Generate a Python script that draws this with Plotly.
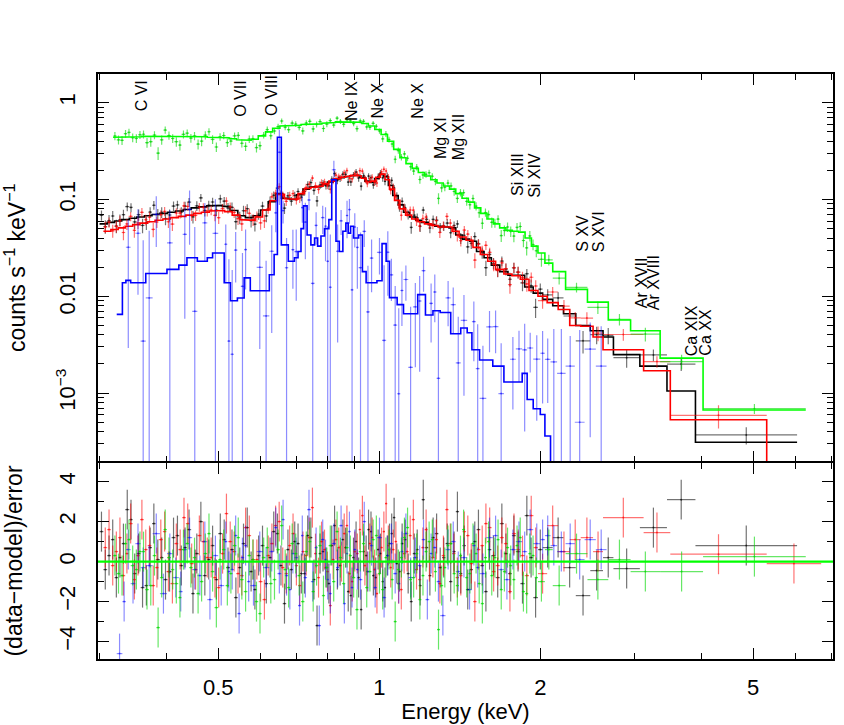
import numpy as np
import plotly.graph_objects as go

# ---------------- data ----------------
# model bins (step lines) and model values
black_edges = [0.300, 0.310, 0.320, 0.330, 0.341, 0.352, 0.364, 0.376, 0.389, 0.402,
               0.416, 0.430, 0.445, 0.460, 0.476, 0.492, 0.509, 0.526, 0.544, 0.562,
               0.581, 0.600, 0.620, 0.640, 0.660, 0.680, 0.700, 0.720, 0.740, 0.760,
               0.780, 0.800, 0.820, 0.840, 0.860, 0.880, 0.900, 0.920, 0.940, 0.960,
               0.980, 1.000, 1.020, 1.040, 1.060, 1.085, 1.110, 1.140, 1.170, 1.200,
               1.235, 1.270, 1.310, 1.350, 1.390, 1.430, 1.475, 1.520, 1.570, 1.620,
               1.680, 1.740, 1.800, 1.870, 1.940, 2.020, 2.110, 2.210, 2.330, 2.480,
               2.620, 2.740, 3.070, 3.450, 3.900, 6.040]
black_model = [0.056, 0.058, 0.060, 0.062, 0.064, 0.066, 0.068, 0.070, 0.072, 0.074,
               0.076, 0.079, 0.082, 0.084, 0.086, 0.087, 0.085, 0.077, 0.068, 0.065,
               0.068, 0.078, 0.095, 0.115, 0.103, 0.100, 0.112, 0.128, 0.135, 0.136,
               0.142, 0.152, 0.162, 0.168, 0.172, 0.176, 0.178, 0.170, 0.155, 0.150,
               0.165, 0.182, 0.172, 0.140, 0.110, 0.088, 0.074, 0.066, 0.061, 0.058,
               0.055, 0.053, 0.052, 0.051, 0.043, 0.039, 0.037, 0.029, 0.025, 0.021,
               0.018, 0.0165, 0.0165, 0.0125, 0.0108, 0.0093, 0.0080, 0.0066, 0.0050, 0.0044,
               0.0038, 0.0025, 0.0019, 0.00105, 0.00031]
black_relerr = [0.15, 0.15, 0.14, 0.14, 0.14, 0.14, 0.13, 0.13, 0.13, 0.13,
                0.12, 0.12, 0.12, 0.12, 0.12, 0.12, 0.12, 0.13, 0.14, 0.14,
                0.13, 0.12, 0.11, 0.10, 0.10, 0.10, 0.09, 0.09, 0.09, 0.09,
                0.08, 0.08, 0.08, 0.08, 0.08, 0.08, 0.08, 0.08, 0.08, 0.08,
                0.08, 0.08, 0.08, 0.09, 0.09, 0.10, 0.10, 0.11, 0.11, 0.11,
                0.11, 0.11, 0.11, 0.11, 0.12, 0.12, 0.12, 0.13, 0.14, 0.14,
                0.15, 0.15, 0.15, 0.16, 0.16, 0.16, 0.17, 0.17, 0.18, 0.19,
                0.20, 0.20, 0.18, 0.29, 0.24]
# extra data-bin boundaries inside the model bins (data are binned finer)
black_mids = [0.305, 0.315, 0.325, 0.335, 0.346, 0.358, 0.370, 0.382, 0.395, 0.409,
              0.423, 0.437, 0.452, 0.468, 0.484, 0.500, 0.517, 0.535, 0.553, 0.571,
              0.590, 0.610, 0.630, 0.650, 0.670, 0.690, 0.710, 0.730, 0.750, 0.770,
              0.790, 0.810, 0.830, 0.850, 0.870, 0.890, 0.910, 0.930, 0.950, 0.970,
              0.990, 1.010, 1.030, 1.050, 1.072, 1.097, 1.125, 1.155, 1.185, 1.217,
              1.252, 1.290, 1.330, 1.370, 1.410, 1.452, 1.497, 1.545, 1.595, 1.650,
              1.710, 1.770, 1.835, 1.905, 1.980]
black_resid = [1.5, -0.4, 0.3, 1.1, -0.8, 0.2, 0.9, 2.6, 2.1, -0.6,
               0.4, -1.3, -1.2, 0.7, 1.9, 0.1, 0.2, -0.9, -0.5, 1.2,
               1.3, -0.2, 0.7, 1.6, -1.6, 0.4, 2.0, -0.7, 0.1, 0.8,
               -0.9, 1.4, 1.1, -0.3, 0.6, -1.8, -0.3, 0.9, 1.7, -0.5,
               -1.4, 0.3, 0.8, -1.1, 0.2, 1.5, 1.4, -0.2, -2.1, 0.6,
               -0.4, 1.0, 0.9, -0.6, -0.6, 1.3, 1.2, -0.9, -3.2, 0.4,
               0.5, -0.3, -1.1, 0.8, 1.8, -0.4, -0.2, 1.1, 0.7, -1.5,
               -1.7, 0.2, 1.0, -0.8, -2.4, 0.5, 0.3, 1.6, 1.5, -0.7,
               -0.8, 0.6, 0.4, -1.0, -1.3, 0.3, 0.9, 1.4, 2.2, -0.1,
               -0.5, 0.9, 1.1, -0.6, -2.0, 0.4, 0.6, -1.2, 3.1, 0.7,
               -0.7, 1.2, 1.4, -0.3, 0.2, 0.9, -1.0, 0.5, 2.5, -0.6,
               0.8, -1.4, -0.4, 1.0, 1.6, -0.2, -1.5, 0.6, 0.3, -0.8,
               1.9, 0.4, -0.6, 1.3, 0.5, -1.1, 2.3, 0.2, -1.8, 0.6,
               0.7, 1.2, -0.3, -1.7, -0.45, 0.2, -0.35, 1.7, 3.1, 0.8]

red_edges = [0.305, 0.315, 0.325, 0.335, 0.346, 0.357, 0.369, 0.381, 0.394, 0.407,
             0.421, 0.435, 0.450, 0.465, 0.481, 0.497, 0.514, 0.531, 0.549, 0.567,
             0.586, 0.605, 0.625, 0.645, 0.665, 0.685, 0.705, 0.725, 0.745, 0.765,
             0.785, 0.805, 0.825, 0.845, 0.865, 0.885, 0.905, 0.925, 0.945, 0.965,
             0.985, 1.005, 1.025, 1.045, 1.068, 1.093, 1.120, 1.150, 1.182, 1.215,
             1.250, 1.288, 1.328, 1.368, 1.410, 1.453, 1.497, 1.545, 1.595, 1.650,
             1.710, 1.770, 1.835, 1.905, 1.980, 2.060, 2.160, 2.270, 2.380, 2.510,
             2.620, 3.120, 3.500, 5.300, 6.700]
red_model = [0.047, 0.049, 0.051, 0.053, 0.055, 0.057, 0.059, 0.061, 0.063, 0.065,
             0.067, 0.069, 0.072, 0.074, 0.076, 0.077, 0.075, 0.069, 0.062, 0.061,
             0.066, 0.078, 0.097, 0.113, 0.102, 0.101, 0.115, 0.130, 0.134, 0.137,
             0.145, 0.155, 0.164, 0.170, 0.174, 0.178, 0.176, 0.166, 0.152, 0.155,
             0.170, 0.183, 0.160, 0.128, 0.098, 0.080, 0.069, 0.063, 0.059, 0.056,
             0.054, 0.052, 0.052, 0.047, 0.041, 0.038, 0.032, 0.027, 0.023, 0.019,
             0.017, 0.0163, 0.0150, 0.0115, 0.0100, 0.0086, 0.0073, 0.0050, 0.0049, 0.0038,
             0.0028, 0.0017, 0.00053, 0.0001]
red_relerr = [0.15, 0.15, 0.15, 0.14, 0.14, 0.14, 0.14, 0.13, 0.13, 0.13,
              0.13, 0.12, 0.12, 0.12, 0.12, 0.12, 0.12, 0.13, 0.14, 0.14,
              0.13, 0.12, 0.11, 0.10, 0.10, 0.10, 0.09, 0.09, 0.09, 0.09,
              0.08, 0.08, 0.08, 0.08, 0.08, 0.08, 0.08, 0.08, 0.08, 0.08,
              0.08, 0.08, 0.08, 0.09, 0.09, 0.10, 0.10, 0.11, 0.11, 0.11,
              0.11, 0.11, 0.11, 0.12, 0.12, 0.12, 0.13, 0.13, 0.14, 0.14,
              0.15, 0.15, 0.15, 0.16, 0.16, 0.16, 0.17, 0.18, 0.18, 0.19,
              0.20, 0.17, 0.30, 15.0]
red_mids = [0.310, 0.320, 0.330, 0.340, 0.351, 0.363, 0.375, 0.387, 0.400, 0.414,
            0.428, 0.442, 0.457, 0.473, 0.489, 0.505, 0.522, 0.540, 0.558, 0.576,
            0.595, 0.615, 0.635, 0.655, 0.675, 0.695, 0.715, 0.735, 0.755, 0.775,
            0.795, 0.815, 0.835, 0.855, 0.875, 0.895, 0.915, 0.935, 0.955, 0.975,
            0.995, 1.015, 1.035, 1.056, 1.080, 1.106, 1.135, 1.166, 1.198, 1.232,
            1.269, 1.308, 1.348, 1.389, 1.431, 1.475, 1.521, 1.570, 1.622, 1.680,
            1.740, 1.802, 1.870, 1.942]
red_resid = [0.7, 1.6, -0.2, 0.5, 1.2, -0.7, 0.4, 1.9, -0.9, 0.3,
             2.1, 0.6, 0.8, -1.2, -0.3, 1.1, 1.5, -0.5, -1.1, 0.9,
             0.6, 2.2, 1.9, -0.1, -0.4, 1.3, 1.0, 0.2, 0.2, -0.8,
             -1.3, 0.4, 2.4, 1.0, 0.5, -0.6, -0.7, 1.7, 1.3, 0.1,
             0.1, -1.0, -1.9, 0.3, 0.9, 1.8, 2.0, -0.3, -0.6, 0.8,
             1.4, -0.2, -1.2, 0.5, 0.3, 1.2, 2.7, 0.4, -0.8, 1.0,
             0.6, -0.5, -2.2, 0.1, 1.1, 0.7, 0.0, 1.4, 1.8, -0.6,
             -1.0, 0.5, 0.4, 1.6, 2.3, -0.2, -0.5, 0.9, 1.2, -0.4,
             -1.6, 0.3, 0.7, 1.5, 2.9, 0.8, -0.3, 0.6, 1.0, -1.1,
             -1.4, 0.4, 0.5, 1.3, 2.1, -0.4, -0.9, 0.7, 1.6, 0.0,
             0.2, 1.1, -1.1, 0.3, 2.6, 0.9, 0.4, -0.8, -0.7, 1.5,
             1.3, -0.1, -2.0, 0.6, 0.8, 1.9, 1.7, -0.5, -0.2, 1.2,
             0.9, -1.5, 1.4, 0.6, 0.3, -0.7, 2.3, 0.7,
             -0.6, 1.8, 0.5, 1.1, 1.2, 0.5, 2.2, 1.45, 0.37, -0.1]

green_edges = [0.318, 0.328, 0.338, 0.349, 0.360, 0.371, 0.383, 0.395, 0.408, 0.421,
               0.434, 0.448, 0.462, 0.477, 0.492, 0.508, 0.524, 0.541, 0.558, 0.576,
               0.594, 0.613, 0.632, 0.652, 0.672, 0.693, 0.714, 0.736, 0.758, 0.781,
               0.804, 0.828, 0.852, 0.877, 0.902, 0.928, 0.954, 0.981, 1.008, 1.036,
               1.064, 1.093, 1.122, 1.152, 1.183, 1.215, 1.248, 1.282, 1.317, 1.353,
               1.390, 1.428, 1.467, 1.507, 1.548, 1.590, 1.634, 1.679, 1.725, 1.773,
               1.822, 1.873, 1.925, 1.980, 2.040, 2.110, 2.230, 2.450, 2.680, 2.950,
               3.350, 4.030, 6.270]
green_model = [0.44, 0.44, 0.445, 0.445, 0.45, 0.45, 0.45, 0.45, 0.445, 0.445,
               0.445, 0.445, 0.445, 0.44, 0.44, 0.435, 0.425, 0.415, 0.41, 0.42,
               0.455, 0.50, 0.545, 0.575, 0.58, 0.585, 0.595, 0.60, 0.605, 0.615,
               0.625, 0.635, 0.64, 0.64, 0.63, 0.61, 0.575, 0.53, 0.47, 0.40,
               0.33, 0.27, 0.235, 0.21, 0.19, 0.175, 0.16, 0.148, 0.138, 0.128,
               0.115, 0.103, 0.094, 0.082, 0.072, 0.063, 0.056, 0.051, 0.048, 0.047,
               0.046, 0.040, 0.033, 0.028, 0.022, 0.018, 0.0118, 0.0087, 0.0057, 0.0044,
               0.0023, 0.00067]
green_relerr = [0.10, 0.10, 0.10, 0.10, 0.10, 0.10, 0.10, 0.10, 0.10, 0.10,
                0.10, 0.10, 0.10, 0.10, 0.09, 0.09, 0.09, 0.09, 0.09, 0.09,
                0.08, 0.08, 0.07, 0.07, 0.07, 0.07, 0.07, 0.07, 0.07, 0.07,
                0.06, 0.06, 0.06, 0.06, 0.06, 0.06, 0.06, 0.06, 0.07, 0.07,
                0.07, 0.08, 0.08, 0.08, 0.08, 0.08, 0.08, 0.09, 0.09, 0.09,
                0.09, 0.09, 0.10, 0.10, 0.10, 0.11, 0.11, 0.12, 0.12, 0.12,
                0.12, 0.13, 0.13, 0.14, 0.14, 0.12, 0.12, 0.13, 0.14, 0.15,
                0.16, 0.12]
green_mids = [0.323, 0.333, 0.343, 0.354, 0.365, 0.377, 0.389, 0.401, 0.414, 0.427,
              0.441, 0.455, 0.469, 0.484, 0.500, 0.516, 0.532, 0.549, 0.567, 0.585,
              0.603, 0.622, 0.642, 0.662, 0.682, 0.703, 0.725, 0.747, 0.769, 0.792,
              0.816, 0.840, 0.864, 0.889, 0.915, 0.941, 0.967, 0.994, 1.022, 1.050,
              1.078, 1.107, 1.137, 1.167, 1.199, 1.231, 1.265, 1.299, 1.335, 1.371,
              1.409, 1.447, 1.487, 1.527, 1.569, 1.612, 1.656, 1.702, 1.749, 1.797,
              1.847, 1.899, 1.952]
green_resid = [0.3, -0.6, -0.7, 0.9, 1.1, -0.2, -0.4, 0.5, 0.5, -1.4,
               -1.2, 0.3, -3.3, -0.8, 1.6, 0.2, -0.4, -1.1, -1.8, 0.6,
               0.9, -0.3, 0.2, -1.6, -1.0, 0.4, 1.4, -0.5, -2.3, 0.1,
               0.6, -1.2, -0.6, 0.8, 1.2, -0.9, -1.5, 0.3, 0.1, -2.0,
               -2.6, 0.2, 0.7, -1.1, -0.9, 0.6, 1.8, -0.4, -1.3, 0.9,
               0.4, -0.7, -2.0, 0.5, 1.0, -1.5, -0.2, 0.8, -1.7, -0.3,
               0.8, -1.0, 1.5, 0.2, -1.1, 0.7, 0.3, -0.8, -2.4, 0.5,
               0.9, -1.3, -0.5, 1.1, 1.3, -0.6, -1.4, 0.2, 0.6, -0.9,
               -3.0, -0.4, 0.2, 1.2, 1.7, -0.9, -0.8, 0.4, -1.9, -0.7,
               0.5, 1.0, 1.1, -0.5, -3.4, -1.2, -0.3, 0.8, 0.9, -0.6,
               -1.2, 0.3, 1.6, -0.8, -0.6, 0.9, 0.4, -1.1, -2.1, 0.2,
               1.0, -0.7, 0.2, 1.1, -1.4, -0.5, 0.7, -0.2, -0.9, 0.8,
               1.2, -1.5, -1.6, 0.4, 0.3, -0.8,
               -1.0, 0.6, -1.2, 0.4, -0.9, 0.1, -0.5, -0.5, 0.25]

blue_edges = [0.323, 0.331, 0.336, 0.343, 0.366, 0.401, 0.422, 0.437, 0.457, 0.477,
              0.488, 0.513, 0.527, 0.543, 0.559, 0.574, 0.623, 0.636, 0.645, 0.656,
              0.676, 0.694, 0.705, 0.714, 0.722, 0.733, 0.745, 0.757, 0.767, 0.778,
              0.790, 0.805, 0.815, 0.830, 0.842, 0.855, 0.866, 0.875, 0.884, 0.895,
              0.915, 0.930, 0.945, 0.990, 1.012, 1.030, 1.045, 1.080, 1.110, 1.180,
              1.220, 1.260, 1.300, 1.360, 1.420, 1.460, 1.490, 1.540, 1.630, 1.710,
              1.850, 1.890, 1.940, 2.000, 2.040, 2.090, 2.150, 2.230, 2.320, 2.420,
              2.540, 2.660]
blue_model = [0.0065, 0.0138, 0.0146, 0.0138, 0.0172, 0.019, 0.021, 0.025, 0.023, 0.025,
              0.028, 0.0138, 0.0090, 0.0096, 0.0155, 0.0114, 0.0167, 0.027, 0.44, 0.034,
              0.023, 0.025, 0.029, 0.050, 0.086, 0.043, 0.034, 0.040, 0.033, 0.042,
              0.050, 0.062, 0.160, 0.037, 0.029, 0.047, 0.057, 0.045, 0.053, 0.040,
              0.043, 0.018, 0.0138, 0.0145, 0.035, 0.023, 0.0097, 0.0082, 0.0066, 0.0104,
              0.0064, 0.0071, 0.0068, 0.0041, 0.0047, 0.0042, 0.0028, 0.0022, 0.0019, 0.0013,
              0.0016, 0.00086, 0.00069, 0.00060, 0.00036, 0.0001, 0.0001, 0.0001, 0.0001, 0.0001,
              0.0001]
blue_relerr = [0.22, 0.5, 2.0, 2.5, 2.2, 2.2, 1.8, 1.8, 1.5, 1.5,
               2.0, 1.5, 1.8, 1.6, 1.2, 1.5, 1.5, 1.0, 0.5, 0.6,
               0.8, 0.8, 0.7, 0.5, 0.4, 0.5, 0.6, 0.5, 0.5, 0.5,
               0.6, 0.5, 0.3, 0.7, 0.6, 0.5, 0.5, 0.5, 0.6, 0.5,
               0.6, 0.8, 1.0, 0.8, 0.5, 0.8, 0.8, 0.8, 0.9, 0.7,
               0.8, 0.8, 0.7, 1.0, 1.0, 0.8, 1.2, 1.0, 1.2, 1.2,
               1.5, 1.5, 2.5, 3.0, 4.0, 25, 30, 20, 40, 25,
               30]
blue_mids = [0.350, 0.358, 0.377, 0.389, 0.411, 0.429, 0.447, 0.467, 0.500, 0.520,
             0.535, 0.551, 0.566, 0.590, 0.606, 0.666, 0.685, 0.797, 0.905, 0.960,
             0.975, 1.062, 1.095, 1.133, 1.156, 1.200, 1.240, 1.280, 1.330, 1.390,
             1.515, 1.585, 1.670, 1.755, 1.800]
blue_resid = [-4.6, -2.0, 0.6, -1.1, 0.9, -0.3, -0.2, 1.4, -1.6, 0.4,
              -0.8, -1.5, 0.6, 1.2, -0.4, -0.7, 1.0, -1.9, 0.3, -1.2,
              1.0, -0.5, -0.4, 1.3, -2.6, 0.2, 0.8, -1.0, -1.2, 0.5,
              -0.3, 0.5, 1.7, -0.6, 2.1, -0.7, -1.4, 0.4, 0.2, -2.2,
              1.3, -0.8, 2.6, -1.0, 0.7, -3.2, 1.1, 0.1, -0.9, -1.6,
              0.9, -0.3, 1.8, -2.1, 0.4, 1.5, -1.3, 0.6, -0.4, -0.9,
              2.0, -0.5, 0.8, -1.3, 1.2, -1.8, 0.3, 0.9, -0.6, -1.1,
              0.5, 1.4, -0.8, 0.2, -0.2, 1.1, -1.9, 0.4, 0.7, -1.0,
              -2.7, 0.6, 1.0, -0.5, 0.2, -1.4, 0.8, -0.3, -0.6, 1.2,
              1.3, -0.4, -0.9, 0.6, 1.0, 0.5, 1.6, 0.9, 1.1, 1.3,
              0.8, 0.5, 0.9, 0.1, 1.1, 0.6]

line_names = ["C VI", "O VII", "O VIII", "Ne IX", "Ne X", "Ne X", "Mg XI", "Mg XII",
              "Si XIII", "Si XIV", "S XV", "S XVI", "Ar XVII", "Ar XVIII", "Ca XIX", "Ca XX"]
line_energy = [0.368, 0.566, 0.647, 0.910, 1.017, 1.209, 1.340, 1.448,
               1.859, 2.000, 2.459, 2.646, 3.171, 3.353, 3.933, 4.177]
line_label_y = [1.166, 1.10, 1.18, 1.05, 1.06, 1.06, 0.434, 0.444,
                0.181, 0.177, 0.0447, 0.0463, 0.01377, 0.01377, 0.0044, 0.00425]

x_ticks = [0.5, 1, 2, 5]
y_ticks = [0.001, 0.01, 0.1, 1]
y_ticktext = ["10<sup>\u22123</sup>", "0.01", "0.1", "1"]
r_ticks = [-4, -2, 0, 2, 4]

# ---------------- figure ----------------
FONT = "Liberation Sans, Arial, Helvetica, sans-serif"
datasets = [
    ("black", "#000000", "rgba(0,0,0,0.55)", black_edges, black_model, black_relerr, black_mids, black_resid),
    ("red", "#ff0000", "rgba(255,0,0,0.55)", red_edges, red_model, red_relerr, red_mids, red_resid),
    ("green", "#00ff00", "rgba(0,215,0,0.6)", green_edges, green_model, green_relerr, green_mids, green_resid),
    ("blue", "#0000ff", "rgba(0,0,255,0.45)", blue_edges, blue_model, blue_relerr, blue_mids, blue_resid),
]

fig = go.Figure()
resid_traces = {}
for name, col, rgba, medges, model, relerr, mids, resid in datasets:
    me = np.array(medges, float)
    m = np.array(model, float)
    rel = np.array(relerr, float)
    de = np.array(sorted(medges + mids), float)
    lo, hi = de[:-1], de[1:]
    c = np.sqrt(lo * hi)
    k = np.searchsorted(me, c) - 1          # model bin holding each data bin
    mm = m[k]
    err = mm * rel[k]
    r = np.array(resid, float)
    rate = mm + r * err
    ok = rate > 0
    fig.add_trace(go.Scatter(
        x=c[ok], y=rate[ok], mode="markers", xaxis="x", yaxis="y",
        marker=dict(size=2, color=rgba), hoverinfo="skip",
        error_x=dict(type="data", symmetric=False, array=(hi - c)[ok], arrayminus=(c - lo)[ok],
                     width=0, thickness=1.2, color=rgba),
        error_y=dict(type="data", array=err[ok], width=0, thickness=1.2, color=rgba)))
    xs = np.repeat(me, 2)[1:-1]
    ys = np.repeat(m, 2)
    fig.add_trace(go.Scatter(x=xs, y=ys, mode="lines", xaxis="x", yaxis="y",
                             line=dict(color=col, width=1.6), hoverinfo="skip"))
    resid_traces[name] = go.Scatter(
        x=c, y=r, mode="markers", xaxis="x2", yaxis="y2",
        marker=dict(size=2, color=rgba), hoverinfo="skip",
        error_x=dict(type="data", symmetric=False, array=hi - c, arrayminus=c - lo,
                     width=0, thickness=1.2, color=rgba),
        error_y=dict(type="constant", value=1, width=0, thickness=1.2, color=rgba))

for name in ["black", "red", "blue", "green"]:
    fig.add_trace(resid_traces[name])

fig.add_shape(type="line", xref="x2 domain", yref="y2", x0=0, x1=1, y0=0, y1=0,
              line=dict(color="#00ff00", width=2.2))

for txt, en, yy in zip(line_names, line_energy, line_label_y):
    fig.add_annotation(x=np.log10(en), y=np.log10(yy), xref="x", yref="y", text=txt,
                       textangle=-90, showarrow=False, xanchor="center", yanchor="middle",
                       xshift=-6, font=dict(family=FONT, size=16, color="black"))

xrange_ = [np.log10(0.298), np.log10(7.05)]
x_minor = [0.3, 0.4, 0.6, 0.7, 0.8, 0.9, 3, 4, 6, 7]
y_minor = [k * 10.0 ** p for p in range(-4, 1) for k in range(2, 10)]
LW = 1.6
axis_common = dict(showline=True, linecolor="black", linewidth=LW, mirror="allticks",
                   ticks="inside", ticklen=11, tickwidth=1.3, tickcolor="black",
                   showgrid=False, zeroline=False, automargin=False,
                   tickfont=dict(family=FONT, size=22, color="black"))
minor_common = dict(ticks="inside", ticklen=6, tickwidth=1.3, tickcolor="black")
split = 0.335
PLOT_H = 725 - 74 - 66

fig.update_layout(
    width=844, height=725, autosize=False, paper_bgcolor="white", plot_bgcolor="white",
    margin=dict(l=98, r=11, t=74, b=66), showlegend=False,
    font=dict(family=FONT, color="black"),
    xaxis=dict(type="log", range=xrange_, domain=[0, 1], anchor="y", tickvals=x_ticks,
               showticklabels=False, matches="x2",
               minor=dict(tickvals=x_minor, **minor_common), **axis_common),
    xaxis2=dict(type="log", range=xrange_, domain=[0, 1], anchor="y2", tickvals=x_ticks,
                ticktext=["0.5", "1", "2", "5"], ticklabelstandoff=8,
                title=dict(text="Energy (keV)", font=dict(family=FONT, size=22), standoff=4),
                minor=dict(tickvals=x_minor, **minor_common), **axis_common),
    yaxis=dict(type="log", range=[-3.706, 0.297], domain=[split + LW / PLOT_H, 1], anchor="x",
               tickvals=y_ticks, ticktext=y_ticktext, tickangle=-90, ticklabelstandoff=12,
               title=dict(text="counts s<sup>\u22121</sup> keV<sup>\u22121</sup>",
                          font=dict(family=FONT, size=23), standoff=26),
               minor=dict(tickvals=y_minor, **minor_common), **axis_common),
    yaxis2=dict(range=[-4.87, 4.93], domain=[0, split], anchor="x2",
                tickvals=r_ticks, tickangle=-90, ticklabelstandoff=12,
                title=dict(text="(data\u2212model)/error", font=dict(family=FONT, size=23), standoff=26),
                minor=dict(tickvals=[-3, -1, 1, 3], **minor_common), **axis_common),
)

fig.write_html("out.html", config={"responsive": False, "displayModeBar": False},
               post_script="document.body.style.margin='0';document.body.style.overflow='hidden';")
